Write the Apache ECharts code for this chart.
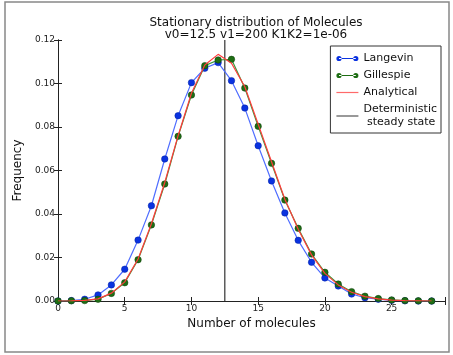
<!DOCTYPE html>
<html><head><meta charset="utf-8">
<script src="https://cdn.jsdelivr.net/npm/echarts@6/dist/echarts.min.js"></script>
<style>html,body{margin:0;padding:0;background:#fff}#c{width:453px;height:355px}</style>
</head><body><div id="c"></div>
<script>
const molecules = [0,1,2,3,4,5,6,7,8,9,10,11,12,13,14,15,16,17,18,19,20,21,22,23,24,25,26,27,28];
const langevin = [0.0000,0.0002,0.0008,0.0028,0.0074,0.0146,0.0280,0.0438,0.0653,0.0852,0.1004,0.1070,0.1096,0.1013,0.0887,0.0714,0.0552,0.0405,0.0279,0.0178,0.0106,0.0069,0.0032,0.0015,0.0008,0.0003,0.0001,0.0000,0.0000];
const gillespie = [0.0000,0.0001,0.0002,0.0008,0.0035,0.0084,0.0190,0.0350,0.0538,0.0757,0.0947,0.1082,0.1108,0.1111,0.0979,0.0803,0.0633,0.0464,0.0334,0.0216,0.0132,0.0078,0.0043,0.0022,0.0011,0.0005,0.0002,0.0001,0.0000];
const analytical = [0.0000,0.0001,0.0003,0.0010,0.0036,0.0088,0.0193,0.0355,0.0545,0.0760,0.0955,0.1085,0.1134,0.1093,0.0985,0.0813,0.0640,0.0468,0.0330,0.0212,0.0127,0.0074,0.0040,0.0020,0.0010,0.0004,0.0002,0.0001,0.0000];
const steadyState = 12.5;
const xTicks = [0,5,10,15,20,25];
const yTicks = [0.00,0.02,0.04,0.06,0.08,0.10,0.12];

const font = 'DejaVu Sans';
const pair = (xs, ys) => xs.map((x,i)=>[x, ys[i]]);
const chart = echarts.init(document.getElementById('c'), null, {renderer:'canvas'});
const axisLine = {show:true, lineStyle:{color:'#222', width:1}};
const dotLineIcon = 'path://M0,3a2.6,2.6 0 1,0 5.2,0a2.6,2.6 0 1,0 -5.2,0zM2.6,2.5L19.4,2.5L19.4,3.5L2.6,3.5zM16.8,3a2.6,2.6 0 1,0 5.2,0a2.6,2.6 0 1,0 -5.2,0zM0,0L0.01,0L0.01,0.01zM0,6L0.01,6L0.01,5.99z';
const lineIcon = 'path://M0,0L22,0L22,1.2L0,1.2z';
chart.setOption({
  animation:false,
  backgroundColor:'#fff',
  title:{
    text:'Stationary distribution of Molecules\nv0=12.5 v1=200 K1K2=1e-06',
    left:251, top:12, textAlign:'center',
    textStyle:{fontFamily:font, fontSize:12, fontWeight:'normal', color:'#111', lineHeight:12}
  },
  grid:{left:58, right:8, top:40, bottom:54, containLabel:false},
  xAxis:[{
    type:'value', min:0, max:29, interval:5, position:'bottom',
    name:'Number of molecules', nameLocation:'middle', nameGap:16,
    nameTextStyle:{fontFamily:font, fontSize:12, color:'#111'},
    axisLine:axisLine, splitLine:{show:false},
    axisTick:{show:true, inside:true, length:4, lineStyle:{color:'#222'}},
    axisLabel:{fontFamily:font, fontSize:9, color:'#222', margin:3,
      formatter:v=> xTicks.includes(v) ? String(v) : ''}
  },{
    type:'value', min:0, max:29, interval:5, position:'top',
    axisLine:axisLine, splitLine:{show:false},
    axisTick:{show:true, inside:true, length:4, lineStyle:{color:'#222'}},
    axisLabel:{show:false}
  }],
  yAxis:[{
    type:'value', min:0, max:0.12, interval:0.02, position:'left',
    name:'Frequency', nameLocation:'middle', nameGap:24,
    nameTextStyle:{fontFamily:font, fontSize:12, color:'#111'},
    axisLine:axisLine, splitLine:{show:false},
    axisTick:{show:true, inside:true, length:4, lineStyle:{color:'#222'}},
    axisLabel:{fontFamily:font, fontSize:9, color:'#222', margin:3,
      formatter:v=>{const t=yTicks.find(y=>Math.abs(y-v)<1e-9); return t===undefined?'':t.toFixed(2);}}
  },{
    type:'value', min:0, max:0.12, interval:0.02, position:'right',
    axisLine:axisLine, splitLine:{show:false},
    axisTick:{show:true, inside:true, length:4, lineStyle:{color:'#222'}},
    axisLabel:{show:false}
  }],
  legend:{
    orient:'vertical', right:12, top:46,
    borderColor:'#333', borderWidth:1, borderRadius:0,
    padding:[6,4,4,6], itemGap:4, itemWidth:22, itemHeight:12,
    textStyle:{fontFamily:font, fontSize:11, color:'#111', lineHeight:13},
    data:[
      {name:'Langevin', icon:dotLineIcon, itemStyle:{color:'#0a32e0', borderWidth:0}},
      {name:'Gillespie', icon:dotLineIcon, itemStyle:{color:'#1e6e14', borderWidth:0}},
      {name:'Analytical', icon:lineIcon, itemStyle:{color:'#ff6a6a', borderWidth:0}},
      {name:'Deterministic\n steady state', icon:lineIcon, itemStyle:{color:'#555', borderWidth:0}}
    ]
  },
  graphic:[{type:'rect', shape:{x:5, y:2, width:444, height:350}, style:{fill:'none', stroke:'#888', lineWidth:1.5}, silent:true, z:-1}],
  series:[
    {name:'Langevin', type:'line', data:pair(molecules, langevin),
     symbol:'circle', symbolSize:6.5, lineStyle:{color:'#4f6dff', width:1.2},
     itemStyle:{color:'#0a32e0', borderColor:'#0020a0', borderWidth:0.5}, z:3},
    {name:'Gillespie', type:'line', data:pair(molecules, gillespie),
     symbol:'circle', symbolSize:6.5, lineStyle:{color:'#3a9a3a', width:1.2},
     itemStyle:{color:'#1e6e14', borderColor:'#0f3d0a', borderWidth:0.5}, z:4},
    {name:'Analytical', type:'line', data:pair(molecules, analytical),
     showSymbol:false, symbol:'none', lineStyle:{color:'#ff3b3b', width:1.2},
     itemStyle:{color:'#ff3b3b'}, z:5},
    {name:'Deterministic\n steady state', type:'line', data:[[steadyState,0],[steadyState,0.12]],
     showSymbol:false, symbol:'none', lineStyle:{color:'#333', width:1.2},
     itemStyle:{color:'#333'}, z:2}
  ]
});
</script></body></html>
